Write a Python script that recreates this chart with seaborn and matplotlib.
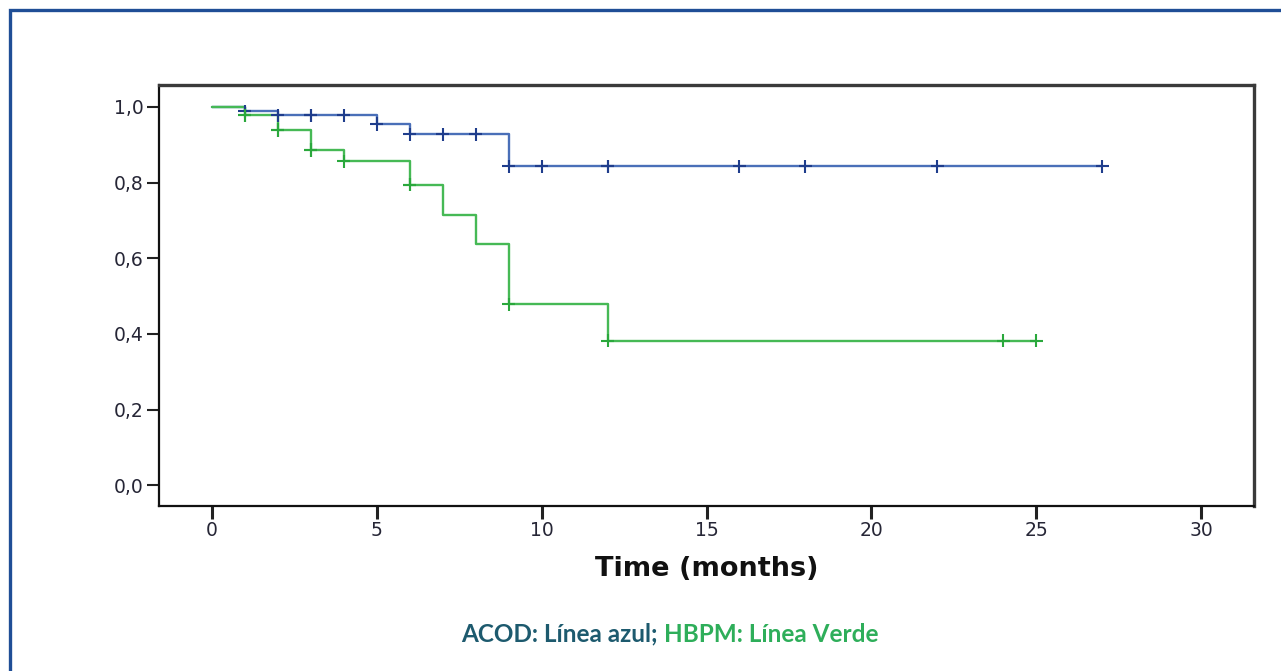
import numpy as np
import pandas as pd
import matplotlib
matplotlib.use("Agg")
import matplotlib.pyplot as plt
from matplotlib.patches import Rectangle
import seaborn as sns

# Kaplan-Meier step values (time in months, survival proportion)
acod_time = [0, 1, 2, 5, 6, 9, 27]
acod_surv = [1.0, 0.989, 0.978, 0.955, 0.928, 0.843, 0.843]
acod_censored = [1, 2, 3, 3, 4, 5, 6, 7, 8, 9, 10, 12, 12, 16, 18, 22, 27]

hbpm_time = [0, 1, 2, 3, 4, 6, 7, 8, 9, 12, 25]
hbpm_surv = [1.0, 0.978, 0.939, 0.886, 0.856, 0.794, 0.715, 0.637, 0.478, 0.382, 0.382]
hbpm_censored = [1, 1, 2, 2, 3, 3, 4, 6, 6, 9, 12, 24, 25]

x_ticks = [0, 5, 10, 15, 20, 25, 30]
y_ticks = [0.0, 0.2, 0.4, 0.6, 0.8, 1.0]
y_tick_labels = ["0,0", "0,2", "0,4", "0,6", "0,8", "1,0"]

BLUE_LINE = "#4a6fb8"
BLUE_MARK = "#1f3d8c"
GREEN_LINE = "#46b955"
GREEN_MARK = "#2aa83c"


def step_value(times, surv, t):
    idx = np.searchsorted(times, t, side="right") - 1
    return surv[idx]


curves = pd.concat([
    pd.DataFrame({"time": acod_time, "surv": acod_surv, "group": "ACOD"}),
    pd.DataFrame({"time": hbpm_time, "surv": hbpm_surv, "group": "HBPM"}),
])
marks = pd.concat([
    pd.DataFrame({"time": acod_censored,
                  "surv": [step_value(acod_time, acod_surv, t) for t in acod_censored],
                  "group": "ACOD"}),
    pd.DataFrame({"time": hbpm_censored,
                  "surv": [step_value(hbpm_time, hbpm_surv, t) for t in hbpm_censored],
                  "group": "HBPM"}),
])

sns.set_theme(style="white")
plt.rcParams["font.family"] = ["DejaVu Sans"]

fig = plt.figure(figsize=(12.81, 6.71), dpi=100)
ax = fig.add_axes([159 / 1281, 1 - 506 / 671, (1254 - 159) / 1281, (506 - 85) / 671])

sns.lineplot(data=curves, x="time", y="surv", hue="group",
             palette={"ACOD": BLUE_LINE, "HBPM": GREEN_LINE},
             drawstyle="steps-post", linewidth=1.7, legend=False, ax=ax,
             estimator=None, sort=False)
sns.scatterplot(data=marks, x="time", y="surv", hue="group",
                palette={"ACOD": BLUE_MARK, "HBPM": GREEN_MARK},
                marker="+", s=90, linewidth=1.5, legend=False, ax=ax, zorder=3)

ax.set_xlim(-1.6, 31.6)
ax.set_ylim(-0.055, 1.058)
ax.set_xticks(x_ticks)
ax.set_xticklabels([str(v) for v in x_ticks])
ax.set_yticks(y_ticks)
ax.set_yticklabels(y_tick_labels)
ax.tick_params(axis="both", which="both", direction="out", length=9,
               labelsize=13.5, colors="#222222", labelcolor="#262636",
               left=True, bottom=True, pad=2)
ax.tick_params(axis="x", width=2.2)
ax.tick_params(axis="y", width=1.5)

ax.set_xlabel("Time (months)", fontsize=19.5, fontweight="bold", color="#111111", labelpad=11)
ax.set_ylabel("")

for side in ["left", "bottom"]:
    ax.spines[side].set_color("#111111")
    ax.spines[side].set_linewidth(1.6)
for side in ["top", "right"]:
    ax.spines[side].set_color("#3a3a3a")
    ax.spines[side].set_linewidth(2.4)
    ax.spines[side].set_visible(True)

# Outer frame around the figure
fig.patches.append(Rectangle((10 / 1281, -0.1), 1.2, 1 - 10 / 671 + 0.1,
                             transform=fig.transFigure, fill=False,
                             edgecolor="#1f4e96", linewidth=2.4))

# Two-colour caption
fig.canvas.draw()
renderer = fig.canvas.get_renderer()
cap_font = dict(fontsize=17.5, fontweight="bold", family=["Lato", "DejaVu Sans"], va="center")
part1 = fig.text(0, 1 - 634 / 671, "ACOD: Línea azul; ", color="#1d5a6e", **cap_font)
part2 = fig.text(0, 1 - 634 / 671, "HBPM: Línea Verde", color="#2eae5a", **cap_font)
w1 = part1.get_window_extent(renderer).width
w2 = part2.get_window_extent(renderer).width
x0 = 670 - (w1 + w2) / 2
part1.set_x(x0 / 1281)
part2.set_x((x0 + w1) / 1281)

fig.savefig("out.png", dpi=100)
